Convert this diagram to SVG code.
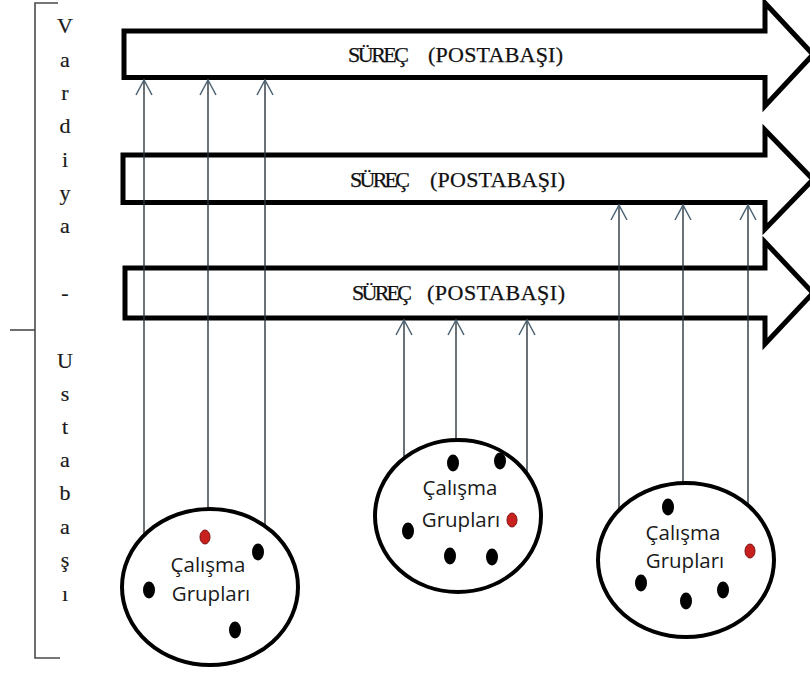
<svg xmlns="http://www.w3.org/2000/svg" width="810" height="675" viewBox="0 0 810 675">
<style>
.arrow{fill:#fff;stroke:#000;stroke-width:5;stroke-linejoin:miter}
.ptxt{font-family:"Liberation Serif","Times New Roman",serif;font-size:22px;fill:#111;stroke:#111;stroke-width:0.25}
.vtxt{font-family:"Liberation Serif","Times New Roman",serif;font-size:22px;fill:#1a1a1a;text-anchor:middle;stroke:#1a1a1a;stroke-width:0.2}
.grp{fill:#fff;stroke:#000;stroke-width:4}
.gtxt{font-family:"Open Sans","Liberation Sans",sans-serif;font-size:20.5px;fill:#1a1a1a;text-anchor:middle}
.dot{fill:#000}
.rdot{fill:#c8201c;stroke:#7a1010;stroke-width:1}
.conn{stroke:#2c353e;stroke-width:1.4;fill:none;marker-end:url(#open)}
.brk{stroke:#4a4a4a;stroke-width:1.6;fill:none}
</style>
<defs>
<marker id="open" markerUnits="userSpaceOnUse" markerWidth="20" markerHeight="20" refX="0" refY="0" orient="auto" overflow="visible" viewBox="-16 -10 20 20">
<path d="M-15,-8 L0,0 L-15,8" fill="none" stroke="#4b6373" stroke-width="1.5"/>
</marker>
</defs>
<rect width="810" height="675" fill="#fff"/>

<g id="bracket">
<path class="brk" d="M58,3 H35 V658 H60"/>
<path class="brk" d="M10,330 H35"/>
<text class="vtxt" x="65" y="33">V</text>
<text class="vtxt" x="65" y="67">a</text>
<text class="vtxt" x="65" y="100">r</text>
<text class="vtxt" x="65" y="133">d</text>
<text class="vtxt" x="65" y="167">i</text>
<text class="vtxt" x="65" y="200">y</text>
<text class="vtxt" x="65" y="233">a</text>
<text class="vtxt" x="65" y="300">-</text>
<text class="vtxt" x="65" y="368">U</text>
<text class="vtxt" x="65" y="401">s</text>
<text class="vtxt" x="65" y="434">t</text>
<text class="vtxt" x="65" y="467">a</text>
<text class="vtxt" x="65" y="500">b</text>
<text class="vtxt" x="65" y="534">a</text>
<text class="vtxt" x="65" y="567">ş</text>
<text class="vtxt" x="65" y="601">ı</text>
</g>

<g id="process1">
<path class="arrow" d="M124,31 H765 V3 L813,54.5 L765,106 V77.5 H124 Z"/>
<text class="ptxt" y="62"><tspan x="348" textLength="61">SÜREÇ</tspan> <tspan x="428" textLength="135">(POSTABAŞI)</tspan></text>
</g>
<g id="process2">
<path class="arrow" d="M123,155 H765 V130 L813,179.5 L765,229 V202.5 H123 Z"/>
<text class="ptxt" y="187"><tspan x="350" textLength="60">SÜREÇ</tspan> <tspan x="430" textLength="135">(POSTABAŞI)</tspan></text>
</g>
<g id="process3">
<path class="arrow" d="M125,268 H765 V242 L813,293 L765,344 V318 H125 Z"/>
<text class="ptxt" y="300"><tspan x="352" textLength="60">SÜREÇ</tspan> <tspan x="427" textLength="138">(POSTABAŞI)</tspan></text>
</g>

<g id="connectors">
<line class="conn" x1="144" y1="560" x2="144" y2="80"/>
<line class="conn" x1="208" y1="540" x2="208" y2="80"/>
<line class="conn" x1="265" y1="560" x2="265" y2="80"/>
<line class="conn" x1="404" y1="500" x2="404" y2="320"/>
<line class="conn" x1="456" y1="480" x2="456" y2="320"/>
<line class="conn" x1="527" y1="500" x2="527" y2="320"/>
<line class="conn" x1="619" y1="540" x2="619" y2="205"/>
<line class="conn" x1="683" y1="520" x2="683" y2="205"/>
<line class="conn" x1="748" y1="540" x2="748" y2="205"/>
</g>

<g id="group1">
<ellipse class="grp" cx="210" cy="587" rx="88" ry="78"/>
<ellipse class="rdot" cx="205" cy="537" rx="5" ry="7"/>
<ellipse class="dot" cx="258" cy="552" rx="6" ry="8.5"/>
<ellipse class="dot" cx="149" cy="590" rx="6" ry="8.5"/>
<ellipse class="dot" cx="235" cy="630" rx="6" ry="8.5"/>
<text class="gtxt" x="208" y="572">Çalışma</text>
<text class="gtxt" x="211" y="601">Grupları</text>
</g>

<g id="group2">
<ellipse class="grp" cx="458" cy="516" rx="83" ry="76"/>
<ellipse class="dot" cx="453" cy="463" rx="6" ry="8.5"/>
<ellipse class="dot" cx="500" cy="461" rx="6" ry="8.5"/>
<ellipse class="rdot" cx="512" cy="520" rx="5" ry="7"/>
<ellipse class="dot" cx="408" cy="531" rx="6" ry="8.5"/>
<ellipse class="dot" cx="450" cy="556" rx="6" ry="8.5"/>
<ellipse class="dot" cx="492" cy="557" rx="6" ry="8.5"/>
<text class="gtxt" x="460" y="495">Çalışma</text>
<text class="gtxt" x="461" y="527">Grupları</text>
</g>

<g id="group3">
<ellipse class="grp" cx="686" cy="560" rx="88" ry="77"/>
<ellipse class="dot" cx="668" cy="507" rx="6" ry="8.5"/>
<ellipse class="rdot" cx="750" cy="551" rx="5" ry="7"/>
<ellipse class="dot" cx="641" cy="583" rx="6" ry="8.5"/>
<ellipse class="dot" cx="723" cy="590" rx="6" ry="8.5"/>
<ellipse class="dot" cx="686" cy="601" rx="6" ry="8.5"/>
<text class="gtxt" x="683" y="540">Çalışma</text>
<text class="gtxt" x="685" y="568">Grupları</text>
</g>
</svg>
